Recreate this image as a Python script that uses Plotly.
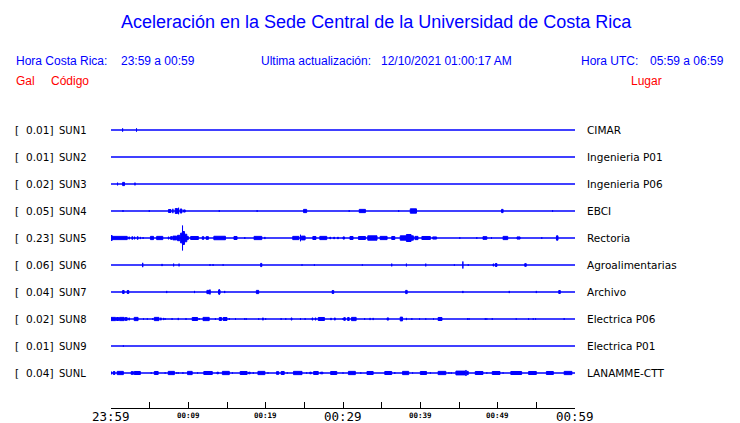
import plotly.graph_objects as go

# ---------------- data ----------------
stations = ["SUN1", "SUN2", "SUN3", "SUN4", "SUN5", "SUN6", "SUN7", "SUN8", "SUN9", "SUNL"]
places = ["CIMAR", "Ingenieria P01", "Ingenieria P06", "EBCI", "Rectoria",
          "Agroalimentarias", "Archivo", "Electrica P06", "Electrica P01", "LANAMME-CTT"]
peak_gal = [0.01, 0.01, 0.02, 0.05, 0.23, 0.06, 0.04, 0.02, 0.01, 0.04]

tick_minutes = [0, 5, 10, 15, 20, 25, 30, 35, 40, 45, 50, 55, 60]
tick_labels = ["23:59", "", "00:09", "", "00:19", "", "00:29", "", "00:39", "", "00:49", "", "00:59"]
major_labels = ["23:59", "00:29", "00:59"]

# events: (start minute, end minute, half amplitude in Gal)
events_sun1 = [(1.5, 1.5, 0.03), (3.3, 3.3, 0.03)]
events_sun2 = []
events_sun3 = [(0.85, 0.85, 0.025), (1.5, 1.75, 0.03), (3.1, 3.15, 0.025)]
events_sun4 = [(1.55, 1.55, 0.015), (4.95, 4.95, 0.015), (7.43, 7.75, 0.028), (8.0, 8.0, 0.04),
               (8.3, 8.6, 0.045), (8.74, 8.74, 0.06), (8.95, 9.17, 0.037), (9.38, 9.6, 0.02),
               (14.0, 14.0, 0.015), (18.9, 18.9, 0.015), (24.9, 25.3, 0.03), (30.8, 30.8, 0.015),
               (32.1, 32.9, 0.03), (37.2, 37.2, 0.015), (38.7, 39.5, 0.04), (50.5, 50.7, 0.03),
               (57.1, 57.1, 0.015)]
events_sun5 = [(0.0, 0.15, 0.045), (0.15, 2.1, 0.03), (2.3, 2.4, 0.02), (2.7, 2.8, 0.025),
               (3.0, 3.1, 0.02), (3.4, 3.5, 0.025), (3.8, 3.85, 0.02), (4.15, 4.15, 0.015),
               (5.1, 5.5, 0.03), (5.9, 6.7, 0.03), (7.4, 7.5, 0.02), (7.7, 7.9, 0.025),
               (8.0, 8.5, 0.035), (8.6, 8.9, 0.05), (9.0, 9.2, 0.09), (9.25, 9.25, 0.23),
               (9.3, 9.5, 0.12), (9.5, 9.8, 0.07), (9.8, 10.0, 0.03), (10.3, 11.3, 0.028),
               (11.8, 12.0, 0.025), (12.3, 12.6, 0.025), (13.3, 14.8, 0.032), (15.9, 16.3, 0.028),
               (17.3, 17.3, 0.015), (18.5, 19.5, 0.03), (19.9, 19.9, 0.02), (23.5, 24.3, 0.03),
               (24.5, 24.5, 0.06), (24.6, 25.1, 0.035), (26.1, 26.5, 0.028), (27.0, 27.9, 0.03),
               (28.3, 28.4, 0.015), (28.8, 28.9, 0.015), (29.3, 29.4, 0.015), (30.0, 30.2, 0.02),
               (30.9, 31.3, 0.028), (32.0, 32.9, 0.028), (33.2, 34.4, 0.04), (34.8, 35.7, 0.03),
               (36.3, 36.7, 0.028), (37.4, 38.2, 0.04), (38.2, 38.8, 0.065), (38.8, 39.1, 0.04),
               (39.3, 39.7, 0.03), (40.2, 41.3, 0.028), (41.6, 42.1, 0.02), (45.1, 45.1, 0.015),
               (47.3, 47.3, 0.015), (48.1, 48.6, 0.025), (49.2, 49.2, 0.015), (50.7, 51.3, 0.03),
               (52.5, 52.9, 0.02), (55.7, 55.7, 0.015), (57.6, 57.8, 0.04)]
events_sun6 = [(4.1, 4.15, 0.04), (6.6, 6.6, 0.02), (8.1, 8.1, 0.025), (8.8, 8.8, 0.025),
               (12.8, 12.8, 0.015), (13.2, 13.2, 0.015), (14.5, 14.5, 0.012), (19.35, 19.5, 0.03),
               (24.7, 24.7, 0.012), (26.3, 26.3, 0.012), (32.5, 32.5, 0.012), (36.3, 36.3, 0.025),
               (38.2, 38.2, 0.025), (40.7, 40.7, 0.025), (44.4, 44.4, 0.012), (45.5, 45.5, 0.065),
               (46.2, 46.2, 0.015), (49.4, 49.5, 0.02), (49.7, 49.9, 0.028), (53.5, 53.7, 0.025)]
events_sun7 = [(1.5, 1.7, 0.028), (2.1, 2.3, 0.028), (7.2, 7.2, 0.02), (10.8, 10.8, 0.02),
               (12.4, 12.8, 0.03), (12.8, 12.8, 0.045), (13.9, 14.1, 0.035), (14.0, 14.0, 0.05),
               (14.7, 14.7, 0.02), (18.8, 19.1, 0.03), (28.6, 28.8, 0.028), (38.1, 38.3, 0.03),
               (45.5, 45.5, 0.02), (51.5, 51.5, 0.02), (55.0, 55.0, 0.02), (57.9, 58.1, 0.028)]
events_sun8 = [(0.0, 0.6, 0.03), (0.7, 1.0, 0.028), (1.1, 1.7, 0.03), (1.8, 2.1, 0.025),
               (2.3, 2.4, 0.02), (3.0, 3.5, 0.03), (4.2, 4.2, 0.012), (4.7, 4.7, 0.012),
               (5.4, 5.4, 0.015), (5.6, 6.2, 0.03), (6.4, 6.5, 0.02), (6.8, 6.8, 0.02),
               (7.0, 7.0, 0.015), (7.9, 7.9, 0.015), (8.7, 8.7, 0.02), (9.7, 9.7, 0.015),
               (10.5, 11.2, 0.028), (11.4, 11.4, 0.015), (11.9, 12.7, 0.03), (13.5, 13.5, 0.015),
               (14.0, 14.3, 0.028), (14.5, 15.0, 0.028), (15.3, 15.3, 0.015), (16.1, 16.1, 0.015),
               (17.3, 17.3, 0.015), (17.5, 17.5, 0.012), (19.1, 19.1, 0.015), (19.6, 19.7, 0.02),
               (20.0, 20.0, 0.015), (22.0, 22.0, 0.015), (22.6, 22.6, 0.015), (23.3, 23.4, 0.02),
               (24.5, 24.5, 0.015), (25.1, 25.1, 0.015), (26.0, 26.1, 0.02), (26.4, 26.5, 0.02),
               (26.8, 27.6, 0.028), (28.4, 28.5, 0.015), (28.9, 29.0, 0.02), (30.0, 30.0, 0.015),
               (30.1, 30.3, 0.025), (30.6, 30.8, 0.028), (31.1, 31.7, 0.03), (32.8, 32.8, 0.015),
               (33.5, 33.5, 0.02), (33.9, 33.9, 0.02), (35.7, 35.9, 0.02), (37.4, 37.7, 0.035),
               (38.2, 38.2, 0.02), (38.9, 38.9, 0.015), (39.9, 39.9, 0.012), (40.7, 40.7, 0.012),
               (41.7, 41.7, 0.012), (42.3, 42.8, 0.028), (46.1, 46.1, 0.015), (46.3, 46.3, 0.015),
               (48.4, 48.4, 0.015), (48.6, 48.6, 0.012), (49.3, 49.3, 0.015), (52.4, 52.4, 0.012),
               (54.0, 54.0, 0.015), (54.6, 54.6, 0.012), (54.9, 54.9, 0.012), (58.6, 58.6, 0.015)]
events_sun9 = [(1.6, 1.6, 0.012)]
events_sunl = [(0.0, 0.1, 0.02), (0.3, 0.5, 0.028), (0.8, 1.6, 0.03), (2.6, 2.9, 0.025),
               (3.0, 3.8, 0.028), (5.2, 5.2, 0.012), (5.6, 6.1, 0.028), (7.0, 7.0, 0.012),
               (7.4, 8.2, 0.03), (8.5, 8.5, 0.012), (8.7, 8.7, 0.012), (9.3, 9.3, 0.015),
               (9.9, 10.5, 0.03), (11.2, 11.2, 0.012), (12.0, 13.1, 0.028), (13.7, 13.9, 0.015),
               (14.4, 15.3, 0.03), (15.7, 15.7, 0.012), (16.7, 17.6, 0.028), (17.8, 18.0, 0.015),
               (18.4, 18.4, 0.015), (19.0, 19.9, 0.03), (20.3, 20.3, 0.012), (21.4, 21.7, 0.025),
               (22.0, 22.4, 0.028), (22.8, 22.8, 0.012), (23.6, 24.7, 0.03), (25.3, 25.3, 0.012),
               (25.7, 25.9, 0.015), (26.2, 26.8, 0.028), (27.1, 27.4, 0.015), (28.4, 29.2, 0.028),
               (30.0, 30.0, 0.012), (30.7, 31.6, 0.03), (32.3, 32.3, 0.012), (33.1, 33.9, 0.028),
               (35.4, 36.3, 0.028), (36.7, 36.7, 0.015), (37.7, 38.5, 0.03), (39.0, 39.0, 0.012),
               (40.0, 40.8, 0.028), (41.3, 41.3, 0.012), (42.3, 43.3, 0.03), (43.7, 43.7, 0.012),
               (44.0, 44.0, 0.012), (44.6, 45.8, 0.035), (45.9, 45.9, 0.056), (46.0, 46.2, 0.03),
               (47.1, 48.1, 0.028), (48.6, 48.6, 0.012), (49.3, 50.3, 0.028), (50.7, 50.7, 0.012),
               (51.7, 53.1, 0.028), (54.0, 55.0, 0.028), (56.3, 57.2, 0.028), (58.6, 59.6, 0.03)]

all_events = [events_sun1, events_sun2, events_sun3, events_sun4, events_sun5,
              events_sun6, events_sun7, events_sun8, events_sun9, events_sunl]

# ---------------- layout constants ----------------
FIG_W, FIG_H = 740, 423
L, R, T, B = 111, 165, 115, 15
PW = FIG_W - L - R
PH = FIG_H - T - B
ROW_GAP = 0.5            # Gal between traces
PX_PER_GAL = 54.0
Y_TOP = 15 / PX_PER_GAL
Y_BOT = -(len(stations) - 1) * ROW_GAP - 35 / PX_PER_GAL
BLUE = "#0000ff"
RED = "#ff0000"
HEAD_FONT = "Liberation Sans, Arial, sans-serif"
LAB_FONT = "DejaVu Sans, sans-serif"
MONO_FONT = "DejaVu Sans Mono, monospace"


def px_x(px):
    return (px - L) / PW


def px_y(py):
    return (FIG_H - B - py) / PH


fig = go.Figure()

for i, (name, evs) in enumerate(zip(stations, all_events)):
    off = -i * ROW_GAP
    fig.add_trace(go.Scatter(x=[tick_minutes[0], tick_minutes[-1]], y=[off, off], mode="lines",
                             line=dict(color=BLUE, width=1.3), hoverinfo="skip", showlegend=False))
    xs, ys = [], []
    for t0, t1, a in evs:
        xs += [t0, t0, t1, t1, t0, None]
        ys += [off - a, off + a, off + a, off - a, off - a, None]
    if xs:
        fig.add_trace(go.Scatter(x=xs, y=ys, mode="lines", fill="toself", fillcolor=BLUE,
                                 line=dict(color=BLUE, width=1), hoverinfo="skip",
                                 showlegend=False))

ann = []


def add(text, px, py, anchor="left", size=12, color=BLUE, family=HEAD_FONT):
    ann.append(dict(text=text, x=px_x(px), y=px_y(py), xref="paper", yref="paper",
                    xanchor=anchor, yanchor="middle", showarrow=False,
                    font=dict(family=family, size=size, color=color)))


add("Aceleración en la Sede Central de la Universidad de Costa Rica", 376, 22,
    anchor="center", size=18)
add("Hora Costa Rica:", 14, 61)
add("23:59 a 00:59", 119, 61)
add("Ultima actualización:", 259, 61)
add("12/10/2021 01:00:17 AM", 379, 61)
add("Hora UTC:", 579, 61)
add("05:59 a 06:59", 726, 61, anchor="right")
add("Gal", 14, 81, color=RED)
add("Código", 49, 81, color=RED)
add("Lugar", 664, 81, anchor="right", color=RED)

for i, (name, place, g) in enumerate(zip(stations, places, peak_gal)):
    py = 130 + i * 27
    add("[", 13, py, size=10.5, color="black", family=LAB_FONT)
    add(f"{g:.2f}]", 55, py, anchor="right", size=10.5, color="black", family=LAB_FONT)
    add(name, 57, py, size=10, color="black", family=LAB_FONT)
    add(place, 585, py, size=10.5, color="black", family=LAB_FONT)

# time labels placed on the x axis scale
for t, lab in zip(tick_minutes, tick_labels):
    if not lab:
        continue
    big = lab in major_labels
    ann.append(dict(text=lab, x=t, xref="x", y=px_y(416.5 if big else 415), yref="paper",
                    xanchor="center", yanchor="middle", showarrow=False,
                    font=dict(family=MONO_FONT, size=12.5 if big else 7.5, color="black",
                              weight="normal" if big else "bold")))

fig.update_layout(
    width=FIG_W, height=FIG_H,
    margin=dict(l=L, r=R, t=T, b=B, autoexpand=False),
    paper_bgcolor="white", plot_bgcolor="white",
    showlegend=False,
    annotations=ann,
    xaxis=dict(range=[tick_minutes[0], tick_minutes[-1]], showgrid=False, zeroline=False,
               showline=True, linecolor="black", linewidth=1,
               ticks="inside", ticklen=6, tickwidth=1, tickcolor="black",
               tickmode="array", tickvals=tick_minutes, showticklabels=False,
               fixedrange=True),
    yaxis=dict(range=[Y_BOT, Y_TOP], visible=False, fixedrange=True),
)

fig.write_html("out.html", config={"displayModeBar": False},
               post_script="document.body.style.margin='0';document.body.style.overflow='hidden';")
